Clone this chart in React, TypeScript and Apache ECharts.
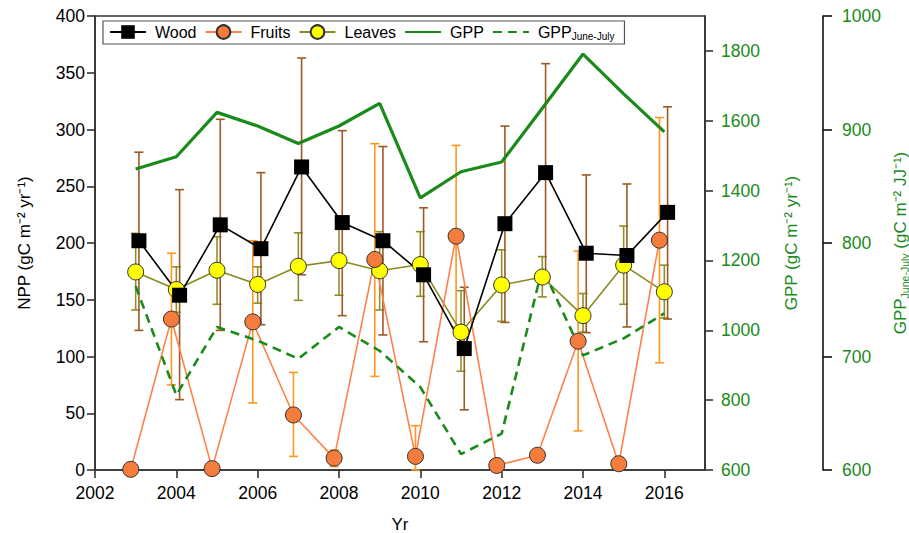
import React, { useEffect, useRef } from "react";
import * as echarts from "echarts";

const years = [2003, 2004, 2005, 2006, 2007, 2008, 2009, 2010, 2011, 2012, 2013, 2014, 2015, 2016];

const woodNPP = [202, 154, 216, 195, 267, 218, 202, 172, 107, 217, 262, 191, 189, 227];
const woodLow = [123, 62, 123, 128, 172, 136, 119, 113, 53, 130, 166, 121, 126, 133];
const woodHigh = [280, 247, 309, 262, 363, 299, 285, 231, 161, 303, 358, 260, 252, 320];

const fruitsNPP = [0.6, 133, 1.2, 130.5, 48.5, 10.5, 185.5, 12, 206, 4, 13, 113.5, 5.5, 202.5];
const fruitsLow = [null, 75, null, 59, 12, 3, 82.5, 0, 126, null, null, 34.5, null, 94.5];
const fruitsHigh = [null, 191, null, 202, 86, 17.5, 287.5, 39, 286, null, null, 193, null, 310.5];

const leavesNPP = [174.5, 159, 176, 163.5, 179.5, 184.5, 175.5, 181, 121.5, 163, 170, 136, 180.5, 157];
const leavesLow = [141, 139, 146, 147, 149.5, 154, 141, 153, 87, 131, 152.5, 121.5, 146, 134];
const leavesHigh = [208.5, 179, 205.5, 179, 209, 220, 210, 210, 158, 194, 188, 155.5, 215, 180.5];

const gpp = [1462, 1497, 1624, 1585, 1535, 1585, 1650, 1379, 1454, 1482, 1636, 1791, 1677, 1568];
const gppJJ = [762, 666, 726, 714, 698, 726, 705, 673, 614, 632, 778, 701, 716, 738];

const xTicks = [2002, 2004, 2006, 2008, 2010, 2012, 2014, 2016];

const WOOD_DX = 0.08;
const FRUITS_DX = -0.12;
const LEAVES_DX = 0;

const GREEN = "#1a8a1a";
const FONT = "'Liberation Sans', Arial, Helvetica, sans-serif";
const TICK_FS = 17.5;
const TITLE_FS = 17;

const plain = (v: number) => String(v);

function pts(vals: (number | null)[], dx: number) {
  return years.map((y, i) => [y + dx, vals[i]]);
}
function errData(lo: (number | null)[], hi: (number | null)[], dx: number) {
  const out: number[][] = [];
  years.forEach((y, i) => {
    if (lo[i] != null && hi[i] != null) out.push([y + dx, lo[i] as number, hi[i] as number]);
  });
  return out;
}
function errSeries(name: string, data: number[][], color: string) {
  return {
    type: "custom",
    name,
    xAxisIndex: 0,
    yAxisIndex: 0,
    data,
    silent: true,
    encode: { x: 0, y: [1, 2] },
    renderItem: (params: any, api: any) => {
      const x = api.value(0);
      const p1 = api.coord([x, api.value(1)]);
      const p2 = api.coord([x, api.value(2)]);
      const w = 4.5;
      const style = { stroke: color, lineWidth: 1.6 };
      return {
        type: "group",
        children: [
          { type: "line", shape: { x1: p1[0], y1: p1[1], x2: p2[0], y2: p2[1] }, style },
          { type: "line", shape: { x1: p1[0] - w, y1: p1[1], x2: p1[0] + w, y2: p1[1] }, style },
          { type: "line", shape: { x1: p2[0] - w, y1: p2[1], x2: p2[0] + w, y2: p2[1] }, style },
        ],
      };
    },
  };
}

export default function App() {
  const ref = useRef<HTMLDivElement>(null);
  useEffect(() => {
    document.body.style.margin = "0";
    const chart = echarts.init(ref.current!, null, { renderer: "svg" });
    const axisLine = { show: true, lineStyle: { color: "#333", width: 1.6 } };
    const tick = { show: true, length: 8, lineStyle: { color: "#333", width: 1.6 } };
    const option: any = {
      animation: false,
      textStyle: { fontFamily: FONT },
      grid: {
        left: 95,
        right: 204,
        top: 16,
        bottom: 63,
        show: true,
        borderColor: "#333",
        borderWidth: 1.6,
        containLabel: false,
        outerBoundsMode: "none",
      },
      legend: {
        left: 103,
        top: 21,
        data: [
          { name: "Wood" },
          { name: "Fruits" },
          { name: "Leaves" },
          { name: "GPP", itemStyle: { opacity: 0 } },
          { name: "GPPJJ", itemStyle: { opacity: 0 } },
        ],
        itemWidth: 36,
        itemHeight: 17,
        itemGap: 8,
        padding: [3, 10, 3, 6],
        borderColor: "#555",
        borderWidth: 1.2,
        textStyle: {
          fontSize: 16,
          color: "#000",
          fontFamily: FONT,
          padding: [0, 0, 0, 4],
          rich: {
            m: { fontSize: 16, fontFamily: FONT, color: "#000", lineHeight: 16, verticalAlign: "top" },
            s: { fontSize: 10, fontFamily: FONT, color: "#000", lineHeight: 12, verticalAlign: "top", padding: [7, 0, 0, 0] },
          },
        },
        formatter: (n: string) => (n === "GPPJJ" ? "{m|GPP}{s|June-July}" : n),
      },
      xAxis: {
        type: "value",
        min: 2002,
        max: 2017,
        interval: 2,
        name: "Yr",
        nameLocation: "middle",
        nameGap: 46,
        nameTextStyle: { fontSize: TITLE_FS, color: "#000", fontFamily: FONT },
        axisLine,
        axisTick: { ...tick, customValues: xTicks },
        axisLabel: { fontSize: TICK_FS, color: "#000", margin: 14, customValues: xTicks, fontFamily: FONT, formatter: plain },
        splitLine: { show: false },
      },
      yAxis: [
        {
          type: "value",
          position: "left",
          min: 0,
          max: 400,
          interval: 50,
          name: "NPP (gC m⁻² yr⁻¹)",
          nameLocation: "middle",
          nameRotate: 90,
          nameGap: 62,
          nameTextStyle: { fontSize: TITLE_FS, color: "#000", fontFamily: FONT },
          axisLine,
          axisTick: tick,
          axisLabel: { fontSize: TICK_FS, color: "#000", margin: 10, fontFamily: FONT, formatter: plain },
          splitLine: { show: false },
        },
        {
          type: "value",
          position: "right",
          min: 600,
          max: 1900,
          interval: 200,
          name: "GPP (gC m⁻² yr⁻¹)",
          nameLocation: "middle",
          nameRotate: 90,
          nameGap: 78,
          nameTextStyle: { fontSize: TITLE_FS, color: GREEN, fontFamily: FONT },
          axisLine,
          axisTick: tick,
          axisLabel: { fontSize: TICK_FS, color: GREEN, margin: 16, showMaxLabel: false, fontFamily: FONT, formatter: plain },
          splitLine: { show: false },
        },
        {
          type: "value",
          position: "right",
          offset: 118,
          min: 600,
          max: 1000,
          interval: 100,
          name: "{m|GPP}{s|June-July}{m| (gC m⁻² JJ⁻¹)}",
          nameLocation: "middle",
          nameRotate: 90,
          nameGap: 55,
          nameTextStyle: {
            fontSize: TITLE_FS,
            color: GREEN,
            fontFamily: FONT,
            rich: {
              m: { fontSize: TITLE_FS, color: GREEN, fontFamily: FONT, lineHeight: 17, verticalAlign: "top" },
              s: { fontSize: 10.5, color: GREEN, fontFamily: FONT, lineHeight: 12, verticalAlign: "top", padding: [8, 0, 0, 0] },
            },
          },
          axisLine: { show: true, lineStyle: { color: "#111", width: 1.6 } },
          axisTick: { show: true, length: 9, lineStyle: { color: "#111", width: 1.6 } },
          axisLabel: { fontSize: TICK_FS, color: GREEN, margin: 19, fontFamily: FONT, formatter: plain },
          splitLine: { show: false },
        },
      ],
      series: [
        errSeries("LeavesErr", errData(leavesLow, leavesHigh, LEAVES_DX), "#8f8f2a"),
        {
          type: "line",
          name: "Leaves",
          data: pts(leavesNPP, LEAVES_DX),
          yAxisIndex: 0,
          symbol: "circle",
          symbolSize: 16,
          lineStyle: { color: "#8a8a1e", width: 1.6 },
          itemStyle: { color: "#ffff00", borderColor: "#333", borderWidth: 1 },
        },
        errSeries("FruitsErr", errData(fruitsLow, fruitsHigh, FRUITS_DX), "#ff961f"),
        {
          type: "line",
          name: "Fruits",
          data: pts(fruitsNPP, FRUITS_DX),
          yAxisIndex: 0,
          symbol: "circle",
          symbolSize: 16,
          lineStyle: { color: "#ff8048", width: 1.6 },
          itemStyle: { color: "#f47c3c", borderColor: "#333", borderWidth: 1 },
        },
        errSeries("WoodErr", errData(woodLow, woodHigh, WOOD_DX), "#9c5a23"),
        {
          type: "line",
          name: "Wood",
          data: pts(woodNPP, WOOD_DX),
          yAxisIndex: 0,
          symbol: "rect",
          symbolSize: 15,
          lineStyle: { color: "#000", width: 1.6 },
          itemStyle: { color: "#000" },
        },
        {
          type: "line",
          name: "GPP",
          data: pts(gpp, 0),
          yAxisIndex: 1,
          symbol: "none",
          lineStyle: { color: GREEN, width: 3.2 },
          itemStyle: { color: GREEN },
        },
        {
          type: "line",
          name: "GPPJJ",
          data: pts(gppJJ, 0),
          yAxisIndex: 2,
          symbol: "none",
          lineStyle: { color: GREEN, width: 2.6, type: [9, 6] },
          itemStyle: { color: GREEN },
        },
      ],
    };
    chart.setOption(option);
    return () => chart.dispose();
  }, []);
  return <div ref={ref} style={{ width: 909, height: 533 }} />;
}
